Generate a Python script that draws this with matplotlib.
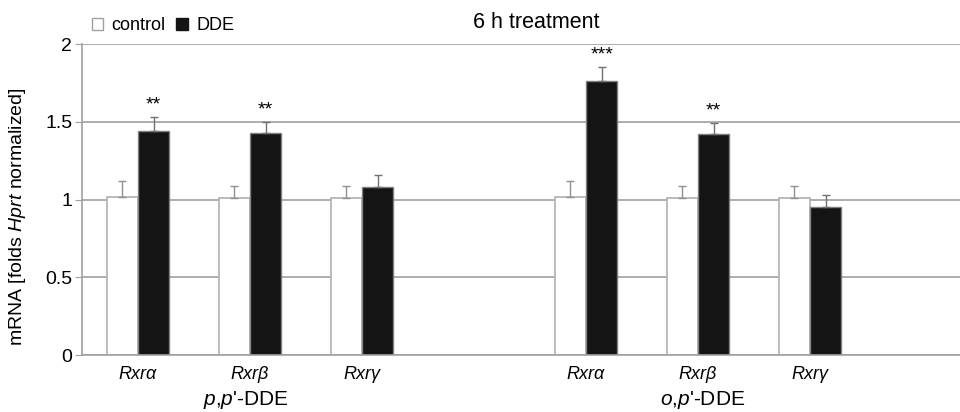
import matplotlib
matplotlib.use('Agg')
import matplotlib.pyplot as plt
from matplotlib.patches import Patch
import numpy as np

plt.rcParams['font.family'] = ['Liberation Sans', 'DejaVu Sans']
plt.rcParams['mathtext.fontset'] = 'custom'
plt.rcParams['mathtext.rm'] = 'Liberation Sans'
plt.rcParams['mathtext.it'] = 'Liberation Sans:italic'

# data (blank slots separate the two compounds)
genes = ['Rxrα', 'Rxrβ', 'Rxrγ', '', 'Rxrα', 'Rxrβ', 'Rxrγ', '']
control = [1.02, 1.01, 1.01, np.nan, 1.02, 1.01, 1.01, np.nan]
control_err = [0.10, 0.08, 0.08, np.nan, 0.10, 0.08, 0.08, np.nan]
dde = [1.44, 1.43, 1.08, np.nan, 1.76, 1.42, 0.95, np.nan]
dde_err = [0.09, 0.07, 0.08, np.nan, 0.09, 0.07, 0.08, np.nan]
stars = ['**', '**', '', '', '***', '**', '', '']
groups = ["$p$,$p$'-DDE", "$o$,$p$'-DDE"]
group_at = [0.96, 5.04]

x = np.arange(len(genes))
w = 0.28

fig = plt.figure(figsize=(9.6, 4.12), dpi=100)
ax = fig.add_axes([0.0854, 0.138, 0.9146, 0.755])

ax.bar(x - w / 2, control, w, color='white', edgecolor='#b0b0b0', linewidth=1.2, zorder=2)
ax.bar(x + w / 2, dde, w, color='#141414', edgecolor='#808080', linewidth=1.0, zorder=2)
ax.errorbar(x - w / 2, control, yerr=[np.zeros(len(x)), control_err], fmt='none',
            ecolor='#909090', elinewidth=1, capsize=3, capthick=1, zorder=3)
ax.errorbar(x + w / 2, dde, yerr=[np.zeros(len(x)), dde_err], fmt='none',
            ecolor='#707070', elinewidth=1, capsize=3, capthick=1, zorder=3)

for xi, d, e, s in zip(x, dde, dde_err, stars):
    if s:
        ax.text(xi + w / 2, d + e + 0.05, s, ha='center', va='baseline', fontsize=14)

ax.set_xlim(-0.5, 7.34)
ax.set_ylim(0, 2)
ax.set_yticks([0, 0.5, 1, 1.5, 2])
ax.set_yticklabels(['0', '0.5', '1', '1.5', '2'], fontsize=14)
ax.yaxis.grid(True, color='#a0a0a0', linewidth=1.2, zorder=0)
ax.set_axisbelow(True)
ax.tick_params(axis='y', length=5, color='#a0a0a0', pad=2)
ax.set_xticks(x)
ax.set_xticklabels(genes, fontsize=13, style='italic')
ax.tick_params(axis='x', length=0, pad=8)
for sp in ['top', 'right']:
    ax.spines[sp].set_visible(False)
for sp in ['left', 'bottom']:
    ax.spines[sp].set_color('#a0a0a0')
    ax.spines[sp].set_linewidth(1.2)

for g, gx in zip(groups, group_at):
    ax.text(gx, -0.215, g, ha='center', va='top', fontsize=15, transform=ax.transData)

ax.set_ylabel('mRNA [folds $Hprt$ normalized]', fontsize=14)
ax.yaxis.set_label_coords(-0.062, 0.445)
fig.text(0.559, 0.945, '6 h treatment', ha='center', va='center', fontsize=15.5)

handles = [Patch(facecolor='white', edgecolor='#a0a0a0', label='control'),
           Patch(facecolor='#141414', edgecolor='#141414', label='DDE')]
fig.legend(handles=handles, loc='center left', bbox_to_anchor=(0.086, 0.937), ncol=2,
           frameon=False, fontsize=13, handlelength=0.65, handleheight=0.65,
           handletextpad=0.45, columnspacing=0.6, borderpad=0)

fig.savefig('out.png', dpi=100)
